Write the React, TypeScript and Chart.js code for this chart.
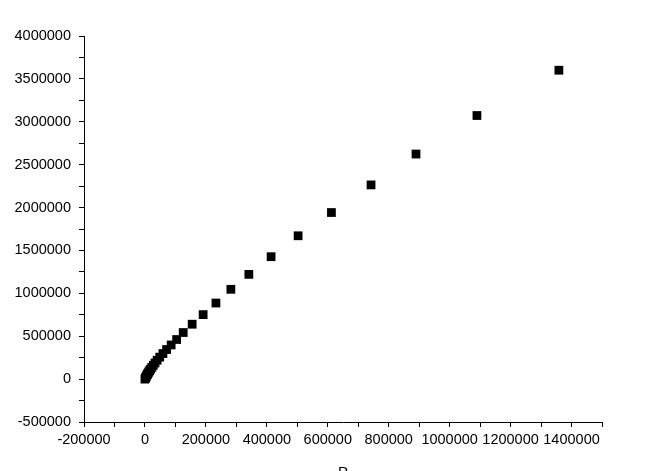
import React, { useEffect, useRef } from 'react';
import Chart from 'chart.js/auto';

const xValues = [0, 1500, 3000, 5000, 7200, 8700, 10600, 12800, 15500, 18700, 22700, 27500, 33000, 40000, 48500, 59000, 71000, 86000, 104000, 125600, 155000, 191000, 233000, 282000, 341000, 414000, 502700, 612000, 742000, 889600, 1089600, 1358500];
const yValues = [0, 11000, 22000, 36000, 50000, 60000, 71000, 84000, 99000, 117000, 137000, 161000, 188000, 220000, 256000, 298000, 345000, 398000, 461600, 543000, 640000, 752000, 887000, 1047000, 1221000, 1427000, 1671000, 1942000, 2264000, 2624000, 3073000, 3601000];

const xRange = [-200000, 1500000];
const xMinorStep = 100000;
const xLabelStep = 200000;
const yRange = [-500000, 4000000];
const yMinorStep = 250000;
const yLabelStep = 500000;
const xTitle = 'P';

const FONT = "'Liberation Sans', Arial, sans-serif";

export default function App() {
  const ref = useRef<HTMLCanvasElement | null>(null);
  useEffect(() => {
    document.body.style.margin = '0';
    const canvas = ref.current!;
    const chart = new Chart(canvas, {
      type: 'scatter',
      data: {
        datasets: [
          {
            data: xValues.map((x, i) => ({ x, y: yValues[i] })),
            pointStyle: 'rect',
            pointRadius: 6.2,
            pointBackgroundColor: '#000',
            pointBorderWidth: 0,
            borderWidth: 0,
            showLine: false,
          },
        ],
      },
      options: {
        animation: false,
        responsive: false,
        devicePixelRatio: 1,
        layout: { padding: { left: 0, right: 70, top: 36, bottom: 0 } },
        plugins: { legend: { display: false }, tooltip: { enabled: false } },
        scales: {
          x: {
            type: 'linear',
            min: xRange[0],
            max: xRange[1],
            border: { color: '#000', width: 1 },
            grid: { drawOnChartArea: false, drawTicks: true, tickLength: 5, color: '#000' },
            ticks: {
              stepSize: xMinorStep,
              autoSkip: false,
              maxRotation: 0,
              padding: 4,
              color: '#000',
              font: { family: FONT, size: 14.5 },
              callback: (v: any) => (Math.round(v) % xLabelStep === 0 && v < xRange[1] ? String(v) : ''),
            },
            title: { display: true, text: xTitle, color: '#000', font: { family: FONT, size: 15 }, padding: { top: 0, bottom: -11 } },
            afterFit: (s: any) => { s.height = 49; },
          },
          y: {
            type: 'linear',
            min: yRange[0],
            max: yRange[1],
            border: { color: '#000', width: 1 },
            grid: { drawOnChartArea: false, drawTicks: true, tickLength: 5, color: '#000' },
            ticks: {
              stepSize: yMinorStep,
              autoSkip: false,
              padding: 8,
              color: '#000',
              font: { family: FONT, size: 14.5 },
              callback: (v: any) => (Math.round(v) % yLabelStep === 0 ? String(v) : ''),
            },
            afterFit: (s: any) => { s.width = 84; },
          },
        },
      },
    });
    return () => chart.destroy();
  }, []);
  return <canvas ref={ref} width={672} height={471} style={{ display: 'block' }} />;
}
